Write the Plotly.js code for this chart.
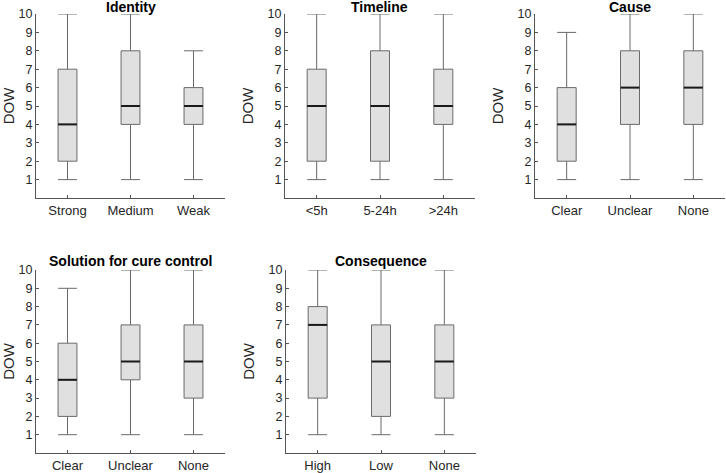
<!DOCTYPE html>
<html>
<head>
<meta charset="utf-8">
<script src="https://cdn.plot.ly/plotly-3.0.1.min.js"></script>
<style>html,body{margin:0;padding:0;background:#fff;}#chart{width:726px;height:473px;}</style>
</head>
<body>
<div id="chart"></div>
<script>
// Panel titles
const panelTitles = ["Identity", "Timeline", "Cause", "Solution for cure control", "Consequence"];
// Categories per panel
const catIdentity = ["Strong", "Medium", "Weak"];
const catTimeline = ["<5h", "5-24h", ">24h"];
const catCause = ["Clear", "Unclear", "None"];
const catSolution = ["Clear", "Unclear", "None"];
const catConsequence = ["High", "Low", "None"];
// Box statistics per panel: [min, q1, median, q3, max] for each category
const minIdentity = [1, 1, 1], q1Identity = [2, 4, 4], medIdentity = [4, 5, 5], q3Identity = [7, 8, 6], maxIdentity = [10, 10, 8];
const minTimeline = [1, 1, 1], q1Timeline = [2, 2, 4], medTimeline = [5, 5, 5], q3Timeline = [7, 8, 7], maxTimeline = [10, 10, 10];
const minCause = [1, 1, 1], q1Cause = [2, 4, 4], medCause = [4, 6, 6], q3Cause = [6, 8, 8], maxCause = [9, 10, 10];
const minSolution = [1, 1, 1], q1Solution = [2, 4, 3], medSolution = [4, 5, 5], q3Solution = [6, 7, 7], maxSolution = [9, 10, 10];
const minConsequence = [1, 1, 1], q1Consequence = [3, 2, 3], medConsequence = [7, 5, 5], q3Consequence = [8, 7, 7], maxConsequence = [10, 10, 10];
const yTicks = [1, 2, 3, 4, 5, 6, 7, 8, 9, 10];

const panels = [
  {cats: catIdentity, mn: minIdentity, q1: q1Identity, md: medIdentity, q3: q3Identity, mx: maxIdentity},
  {cats: catTimeline, mn: minTimeline, q1: q1Timeline, md: medTimeline, q3: q3Timeline, mx: maxTimeline},
  {cats: catCause, mn: minCause, q1: q1Cause, md: medCause, q3: q3Cause, mx: maxCause},
  {cats: catSolution, mn: minSolution, q1: q1Solution, md: medSolution, q3: q3Solution, mx: maxSolution},
  {cats: catConsequence, mn: minConsequence, q1: q1Consequence, md: medConsequence, q3: q3Consequence, mx: maxConsequence}
];

const W = 726, H = 473;
const xDom = [[36, 225], [285, 475], [535, 725], [36, 225], [286, 476]];
const yDom = [[14, 198], [14, 198], [14, 198], [270, 453], [270, 453]];
const titleY = [7.5, 7.5, 7.5, 261, 261];
const boxW = 0.3;

const traces = [];
const layout = {
  width: W, height: H,
  margin: {l: 0, r: 0, t: 0, b: 0},
  paper_bgcolor: "#fff", plot_bgcolor: "#fff",
  showlegend: false,
  font: {family: "Liberation Sans, Arial, sans-serif", color: "#262626", size: 12},
  annotations: []
};

panels.forEach((p, i) => {
  const n = i + 1;
  const xa = "x" + (n === 1 ? "" : n), ya = "y" + (n === 1 ? "" : n);
  const idx = p.cats.map((_, k) => k);
  traces.push({
    type: "box", xaxis: xa, yaxis: ya,
    x: idx, lowerfence: p.mn, q1: p.q1, median: p.md, q3: p.q3, upperfence: p.mx,
    width: boxW, whiskerwidth: 1,
    fillcolor: "#e0e0e0",
    line: {color: "#6a6a6a", width: 1},
    hoverinfo: "skip", boxpoints: false
  });
  // median overlays
  const mx = [], my = [];
  idx.forEach((k) => { mx.push(k - boxW / 2, k + boxW / 2, null); my.push(p.md[k], p.md[k], null); });
  traces.push({
    type: "scatter", mode: "lines", xaxis: xa, yaxis: ya,
    x: mx, y: my, line: {color: "#1a1a1a", width: 2}, hoverinfo: "skip"
  });
  const d = xDom[i], e = yDom[i];
  layout["xaxis" + (n === 1 ? "" : n)] = {
    domain: [d[0] / W, d[1] / W], anchor: ya, range: [-0.5, 2.5],
    tickvals: idx, ticktext: p.cats, ticks: "inside", ticklen: 3, tickcolor: "#555",
    showline: true, linecolor: "#555", linewidth: 1, showgrid: false, zeroline: false,
    tickfont: {size: 13, color: "#262626"}, fixedrange: true
  };
  layout["yaxis" + (n === 1 ? "" : n)] = {
    domain: [1 - e[1] / H, 1 - e[0] / H], anchor: xa, range: [0, 10],
    tickvals: yTicks, ticks: "inside", ticklen: 3, tickcolor: "#555",
    showline: true, linecolor: "#555", linewidth: 1, showgrid: false, zeroline: false,
    tickfont: {size: 12.5, color: "#262626"},
    title: {text: "DOW", font: {size: 15, color: "#262626"}, standoff: 10}, fixedrange: true
  };
  layout.annotations.push({
    text: "<b>" + panelTitles[i] + "</b>", xref: "paper", yref: "paper",
    x: (d[0] + d[1]) / 2 / W, y: 1 - titleY[i] / H, xanchor: "center", yanchor: "middle",
    showarrow: false, font: {size: 14, color: "#000"}
  });
});

Plotly.newPlot("chart", traces, layout, {displayModeBar: false, staticPlot: true});
</script>
</body>
</html>
